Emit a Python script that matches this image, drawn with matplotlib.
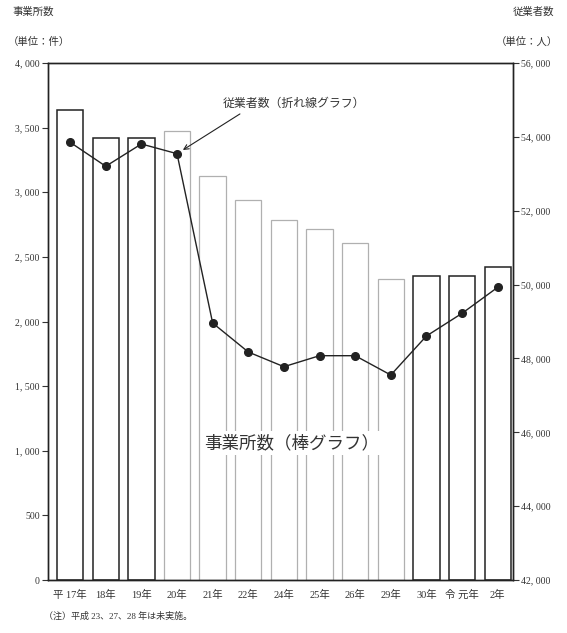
import matplotlib
matplotlib.use("Agg")
import matplotlib.pyplot as plt
from matplotlib.ticker import FuncFormatter

plt.rcParams["font.family"] = ["Liberation Serif", "Noto Sans CJK JP", "DejaVu Sans"]

# 年次ごとの事業所数（件）と従業者数（人）
years = ["平 17年", "18年", "19年", "20年", "21年", "22年", "24年",
         "25年", "26年", "29年", "30年", "令 元年", "2年"]
establishments = [3635, 3420, 3420, 3474, 3123, 2940, 2783,
                  2713, 2605, 2331, 2354, 2354, 2424]
employees = [53853, 53203, 53807, 53544, 48959, 48174, 47776,
             48074, 48074, 47551, 48607, 49222, 49926]
# 調査方式の違いで枠線の濃さを変える
dark_bar = [True, True, True, False, False, False, False,
            False, False, False, True, True, True]

TEXT = "#333333"


def comma_space(v, pos):
    return f"{int(v):,}".replace(",", ", ")


fig = plt.figure(figsize=(5.67, 6.33), dpi=100)
ax = fig.add_axes([0.0847, 0.0837, 0.8201, 0.8168])
ax2 = ax.twinx()

x = list(range(len(years)))
for i, (v, dk) in enumerate(zip(establishments, dark_bar)):
    ax.bar(i, v, width=0.74, facecolor="white",
           edgecolor="#222222" if dk else "#b0b0b0",
           linewidth=1.1 if dk else 0.9, zorder=2)

ax.set_xlim(-0.62, 12.43)
ax.set_ylim(0, 4000)
ax.set_yticks(range(0, 4001, 500))
ax.yaxis.set_major_formatter(FuncFormatter(comma_space))
ax.set_xticks(x)
ax.set_xticklabels(years)
ax.tick_params(axis="x", length=0, pad=7, labelsize=7.5, colors=TEXT)
ax.tick_params(axis="y", length=4, width=0.8, pad=2, labelsize=7, colors=TEXT)

ax2.plot(x, employees, color="#222222", linewidth=1.0, marker="o",
         markersize=5.5, zorder=3)
ax2.set_ylim(42000, 56000)
ax2.set_yticks(range(42000, 56001, 2000))
ax2.yaxis.set_major_formatter(FuncFormatter(comma_space))
ax2.tick_params(axis="y", length=4, width=0.8, pad=2, labelsize=7, colors=TEXT)

for a in (ax, ax2):
    for s in a.spines.values():
        s.set_color("#222222")
        s.set_linewidth(1.0)

ax.text(0.523, 0.265, "事業所数（棒グラフ）", transform=ax.transAxes,
        ha="center", va="center", fontsize=12.6, color=TEXT,
        family=["Noto Sans CJK JP"],
        bbox=dict(facecolor="white", edgecolor="none", pad=2), zorder=5)

ax2.annotate("従業者数（折れ線グラフ）", xy=(3, employees[3]),
             xytext=(0.518, 0.837), textcoords="figure fraction",
             ha="center", va="center", fontsize=8.6, color=TEXT,
             family=["Noto Sans CJK JP"],
             arrowprops=dict(arrowstyle="->", color="#222222", lw=0.8,
                             shrinkA=2, shrinkB=5, relpos=(0.17, 0.0)))

fig.text(0.022, 0.981, "事業所数", ha="left", va="center", fontsize=7.5,
         color=TEXT, family=["Noto Sans CJK JP"])
fig.text(0.014, 0.934, "（単位：件）", ha="left", va="center", fontsize=7.5,
         color=TEXT, family=["Noto Sans CJK JP"])
fig.text(0.978, 0.981, "従業者数", ha="right", va="center", fontsize=7.5,
         color=TEXT, family=["Noto Sans CJK JP"])
fig.text(0.984, 0.934, "（単位：人）", ha="right", va="center", fontsize=7.5,
         color=TEXT, family=["Noto Sans CJK JP"])
fig.text(0.078, 0.026, "（注）平成 23、27、28 年は未実施。", ha="left",
         va="center", fontsize=6.5, color=TEXT)

fig.savefig("out.png", dpi=100)
